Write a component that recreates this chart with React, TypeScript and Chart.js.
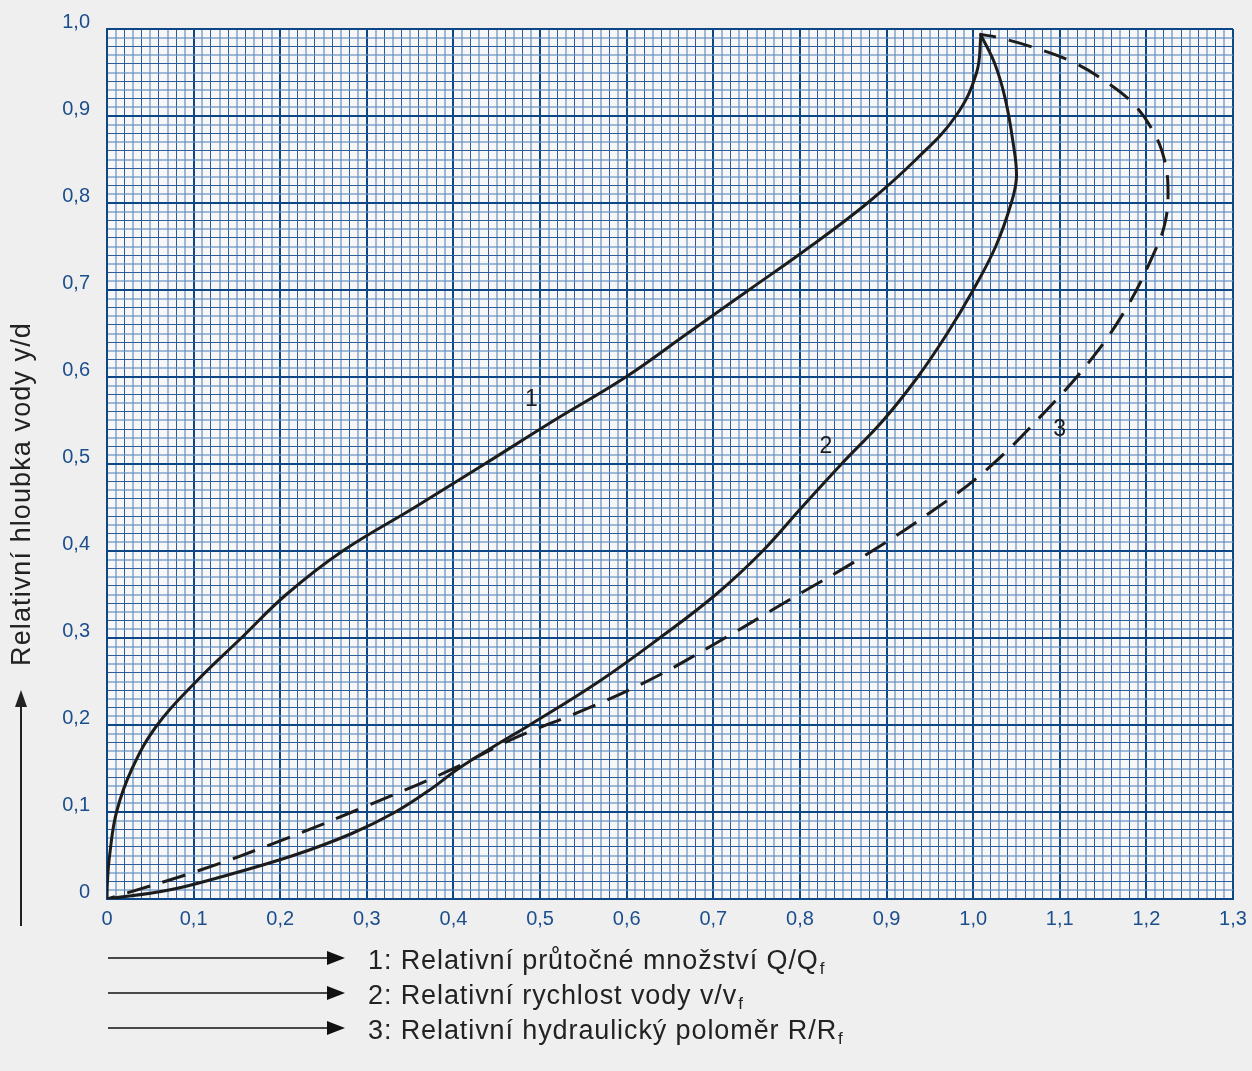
import React, { useEffect, useRef } from "react";
import { Chart, registerables } from "chart.js";

Chart.register(...registerables);

// ---- Data ----
// Curve 1: Relative flow Q/Qf
const flowX = [0, 0.0005, 0.003, 0.011, 0.029, 0.058, 0.103, 0.155, 0.207, 0.272, 0.355, 0.436, 0.516, 0.599, 0.67, 0.741, 0.812, 0.878, 0.934, 0.98, 1.004, 1.009];
const flowY = [0, 0.02, 0.05, 0.1, 0.15, 0.2, 0.25, 0.3, 0.35, 0.4, 0.45, 0.5, 0.55, 0.6, 0.65, 0.7, 0.75, 0.8, 0.85, 0.9, 0.95, 0.993];

// Curve 2: Relative velocity v/vf
const velX = [0, 0.07, 0.13, 0.215, 0.282, 0.333, 0.372, 0.406, 0.446, 0.488, 0.568, 0.638, 0.703, 0.757, 0.802, 0.848, 0.896, 0.936, 0.97, 1.0, 1.026, 1.044, 1.05, 1.046, 1.037, 1.025, 1.009];
const velY = [0, 0.01, 0.025, 0.05, 0.075, 0.1, 0.125, 0.15, 0.175, 0.2, 0.25, 0.3, 0.35, 0.4, 0.45, 0.5, 0.55, 0.6, 0.65, 0.7, 0.75, 0.8, 0.83, 0.87, 0.92, 0.96, 0.993];

// Curve 3: Relative hydraulic radius R/Rf
const radX = [0, 0.107, 0.203, 0.3, 0.396, 0.473, 0.55, 0.627, 0.703, 0.788, 0.872, 0.95, 1.015, 1.082, 1.136, 1.178, 1.209, 1.221, 1.225, 1.221, 1.207, 1.184, 1.154, 1.115, 1.069, 1.03, 1.007];
const radY = [0, 0.033, 0.068, 0.107, 0.148, 0.186, 0.217, 0.252, 0.294, 0.344, 0.393, 0.444, 0.493, 0.559, 0.62, 0.681, 0.743, 0.775, 0.811, 0.849, 0.884, 0.915, 0.939, 0.962, 0.979, 0.99, 0.994];

const xTickValues = [0, 0.1, 0.2, 0.3, 0.4, 0.5, 0.6, 0.7, 0.8, 0.9, 1.0, 1.1, 1.2, 1.3];
const xTickLabels = ["0", "0,1", "0,2", "0,3", "0,4", "0,5", "0,6", "0,7", "0,8", "0,9", "1,0", "1,1", "1,2", "1,3"];
const yTickValues = [0, 0.1, 0.2, 0.3, 0.4, 0.5, 0.6, 0.7, 0.8, 0.9, 1.0];
const yTickLabels = ["0", "0,1", "0,2", "0,3", "0,4", "0,5", "0,6", "0,7", "0,8", "0,9", "1,0"];

const curveLabels = ["1", "2", "3"];
const curveLabelX = [0.49, 0.83, 1.10];
const curveLabelY = [0.574, 0.52, 0.54];

const yAxisTitle = "Relativní hloubka vody y/d";
const legendMain = ["1: Relativní průtočné množství Q/Q", "2: Relativní rychlost vody v/v", "3: Relativní hydraulický poloměr R/R"];
const legendSub = ["f", "f", "f"];

const W = 1252;
const H = 1071;
const BLUE = "#0e4786";
const TEXT_BLUE = "#1b4e8c";
const INK = "#1c1c1c";

function gridColor(ctx: any) {
  const i = Math.round((ctx.tick?.value ?? 0) * 100);
  if (i % 10 === 0) return BLUE;
  return i % 2 === 1 ? "rgba(105,145,192,0.62)" : "#2d5e9c";
}
function gridWidth(ctx: any) {
  const i = Math.round((ctx.tick?.value ?? 0) * 100);
  if (i % 10 === 0) return 2;
  return i % 2 === 1 ? 2 : 1;
}

const decorPlugin = {
  id: "decor",
  beforeDraw(chart: any) {
    const { ctx, chartArea } = chart;
    ctx.save();
    ctx.fillStyle = "#efefef";
    ctx.fillRect(0, 0, W, H);
    ctx.fillStyle = "#f7f7f7";
    ctx.fillRect(chartArea.left, chartArea.top, chartArea.right - chartArea.left, chartArea.bottom - chartArea.top);
    ctx.restore();
  },
  afterDraw(chart: any) {
    const { ctx, scales } = chart;
    const xs = scales.x;
    const ys = scales.y;
    ctx.save();
    // tick labels
    ctx.fillStyle = TEXT_BLUE;
    ctx.font = '20px "Liberation Sans", Arial, sans-serif';
    ctx.textBaseline = "middle";
    ctx.textAlign = "right";
    yTickValues.forEach((v, i) => {
      ctx.fillText(yTickLabels[i], 90, ys.getPixelForValue(v) - 7);
    });
    ctx.textAlign = "center";
    xTickValues.forEach((v, i) => {
      ctx.fillText(xTickLabels[i], xs.getPixelForValue(v), 919);
    });

    // curve labels
    ctx.fillStyle = INK;
    ctx.font = '23px "Liberation Sans", Arial, sans-serif';
    curveLabels.forEach((t, i) => {
      ctx.fillText(t, xs.getPixelForValue(curveLabelX[i]), ys.getPixelForValue(curveLabelY[i]));
    });

    // y axis title (rotated)
    ctx.save();
    ctx.translate(23, 494);
    ctx.rotate(-Math.PI / 2);
    ctx.font = '27px "Liberation Sans", Arial, sans-serif';
    (ctx as any).letterSpacing = "1.1px";
    ctx.fillStyle = "#222";
    ctx.textAlign = "center";
    ctx.textBaseline = "middle";
    ctx.fillText(yAxisTitle, 0, 0);
    (ctx as any).letterSpacing = "0px";
    ctx.restore();

    // y axis arrow
    ctx.strokeStyle = "#222";
    ctx.fillStyle = "#222";
    ctx.lineWidth = 2;
    ctx.beginPath();
    ctx.moveTo(21, 926);
    ctx.lineTo(21, 704);
    ctx.stroke();
    ctx.beginPath();
    ctx.moveTo(21, 690);
    ctx.lineTo(15, 707);
    ctx.lineTo(27, 707);
    ctx.closePath();
    ctx.fill();

    // legend
    const rows = [958, 993, 1028];
    rows.forEach((y, i) => {
      ctx.strokeStyle = "#111";
      ctx.fillStyle = "#111";
      ctx.lineWidth = 1.5;
      ctx.beginPath();
      ctx.moveTo(108, y);
      ctx.lineTo(332, y);
      ctx.stroke();
      ctx.beginPath();
      ctx.moveTo(345, y);
      ctx.lineTo(327, y - 7);
      ctx.lineTo(327, y + 7);
      ctx.closePath();
      ctx.fill();

      ctx.fillStyle = "#222";
      ctx.textAlign = "left";
      ctx.textBaseline = "alphabetic";
      ctx.font = '27px "Liberation Sans", Arial, sans-serif';
      (ctx as any).letterSpacing = "0.9px";
      const base = y + 11;
      ctx.fillText(legendMain[i], 368, base);
      const w = ctx.measureText(legendMain[i]).width;
      ctx.font = '17px "Liberation Sans", Arial, sans-serif';
      ctx.fillText(legendSub[i], 368 + w + 1, base + 5);
      (ctx as any).letterSpacing = "0px";
    });
    ctx.restore();
  },
};

function toPts(xs: number[], ys: number[]) {
  return xs.map((x, i) => ({ x, y: ys[i] }));
}

export default function App() {
  const ref = useRef<HTMLCanvasElement | null>(null);
  useEffect(() => {
    if (!ref.current) return;
    const chart = new Chart(ref.current, {
      type: "scatter",
      data: {
        datasets: [
          { data: toPts(flowX, flowY), showLine: true, borderColor: INK, borderWidth: 3, pointRadius: 0, tension: 0.4, fill: false },
          { data: toPts(velX, velY), showLine: true, borderColor: INK, borderWidth: 3, pointRadius: 0, tension: 0.4, fill: false },
          { data: toPts(radX, radY), showLine: true, borderColor: INK, borderWidth: 3, pointRadius: 0, tension: 0.4, fill: false, borderDash: [24, 13], borderDashOffset: 16 },
        ],
      },
      options: {
        animation: false,
        responsive: false,
        devicePixelRatio: 1,
        layout: { padding: { left: 107, top: 29, right: 19, bottom: 172 } },
        plugins: { legend: { display: false }, tooltip: { enabled: false } },
        events: [],
        scales: {
          x: {
            type: "linear",
            min: 0,
            max: 1.3,
            afterFit: (s: any) => { s.height = 0; },
            ticks: { display: false, stepSize: 0.01 },
            grid: { color: gridColor, lineWidth: gridWidth, drawTicks: false },
            border: { display: true, color: BLUE, width: 2 },
          },
          y: {
            type: "linear",
            min: 0,
            max: 1.0,
            afterFit: (s: any) => { s.width = 0; },
            ticks: { display: false, stepSize: 0.01 },
            grid: { color: gridColor, lineWidth: gridWidth, drawTicks: false },
            border: { display: true, color: BLUE, width: 2 },
          },
        },
      },
      plugins: [decorPlugin],
    } as any);
    return () => chart.destroy();
  }, []);
  return (
    <div style={{ position: "absolute", left: 0, top: 0, width: W, height: H }}>
      <canvas ref={ref} width={W} height={H} style={{ width: W, height: H, display: "block" }} />
    </div>
  );
}
